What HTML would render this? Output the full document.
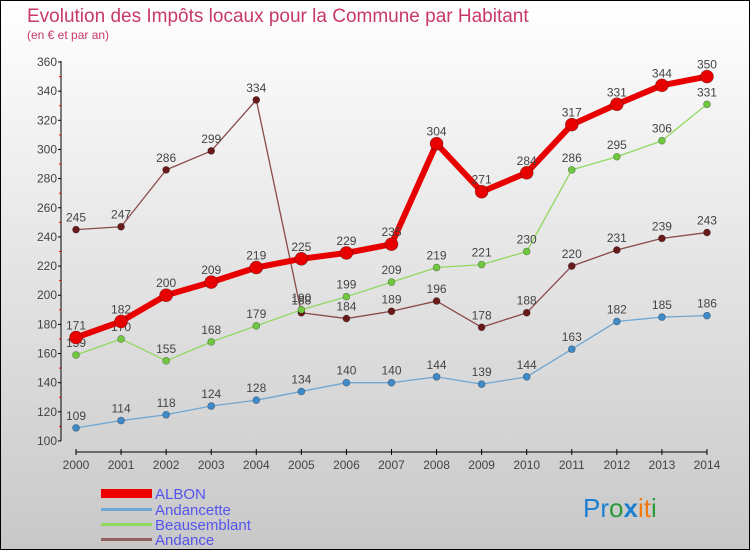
<!DOCTYPE html>
<html><head><meta charset="utf-8"><style>
body{margin:0;width:750px;height:550px;overflow:hidden;font-family:"Liberation Sans",sans-serif}
#wrap{position:relative;width:748px;height:548px;border:1px solid #000;background:linear-gradient(#fff,#c8c8c8)}
</style></head><body>
<div id="wrap">
<svg id="chart" width="748" height="548" style="position:absolute;left:0;top:0">
<text x="26" y="21" font-size="19" fill="#c8386a">Evolution des Impôts locaux pour la Commune par Habitant</text>
<text x="26" y="38" font-size="12" fill="#c8386a">(en € et par an)</text>
<g id="axes"></g><g id="series"></g>
<g>
<rect x="100" y="488" width="51" height="9" fill="#e00"/>
<text x="154" y="498" font-size="15" fill="#5555ee">ALBON</text>
<rect x="100" y="507" width="51" height="3" fill="#6fa6d2"/>
<text x="154" y="514" font-size="15" fill="#5555ee">Andancette</text>
<rect x="100" y="522" width="51" height="3" fill="#90d860"/>
<text x="154" y="529" font-size="15" fill="#5555ee">Beausemblant</text>
<rect x="100" y="537" width="51" height="3" fill="#906060"/>
<text x="154" y="544" font-size="15" fill="#5555ee">Andance</text>
</g>
<text x="582" y="516" font-size="26"><tspan fill="#1a7fd0">Pr</tspan><tspan fill="#2a9a3a">o</tspan><tspan fill="#1a7fd0" font-weight="bold">x</tspan><tspan fill="#f07a10">i</tspan><tspan fill="#f07a10">t</tspan><tspan fill="#2a9a3a">i</tspan></text>
</svg></div>
<script>
const years=[2000,2001,2002,2003,2004,2005,2006,2007,2008,2009,2010,2011,2012,2013,2014];
const albon=[171,182,200,209,219,225,229,235,304,271,284,317,331,344,350];
const andancette=[109,114,118,124,128,134,140,140,144,139,144,163,182,185,186];
const beausemblant=[159,170,155,168,179,190,199,209,219,221,230,286,295,306,331];
const andance=[245,247,286,299,334,188,184,189,196,178,188,220,231,239,243];
const yTicks=[100,120,140,160,180,200,220,240,260,280,300,320,340,360];
const NS="http://www.w3.org/2000/svg";
const xS=i=>75+i*45.07, yS=v=>440-(v-100)*(379/260);
function mk(tag,attrs,parent){const e=document.createElementNS(NS,tag);for(const k in attrs)e.setAttribute(k,attrs[k]);parent.appendChild(e);return e;}
const ax=document.getElementById('axes');
let e=mk('line',{x1:60,y1:yS(360)-1,x2:60,y2:yS(100),stroke:'#000'},ax);


e=mk('line',{x1:75,y1:451,x2:706,y2:451,stroke:'#000'},ax);


yTicks.forEach(v=>{
 mk('line',{x1:57,y1:yS(v),x2:60,y2:yS(v),stroke:'#000'},ax);
 if(v<360)mk('line',{x1:58,y1:yS(v+10),x2:60,y2:yS(v+10),stroke:'#e00'},ax);
 const t=mk('text',{x:56,y:yS(v)+4,'font-size':12,'text-anchor':'end',fill:'#444'},ax);t.textContent=v;
 
 
});
years.forEach((y,i)=>{
 mk('line',{x1:xS(i),y1:448,x2:xS(i),y2:454,stroke:'#000'},ax);
 const t=mk('text',{x:xS(i),y:468,'font-size':12,'text-anchor':'middle',fill:'#444'},ax);t.textContent=y;
 
 
});
const sg=document.getElementById('series');
function draw(data,name,color,dot,w,r){
 const g=mk('g',{},sg);
 
 
 const l=mk('polyline',{points:data.map((v,i)=>xS(i)+','+yS(v)).join(' '),fill:'none',stroke:color,'stroke-width':w,'stroke-linejoin':'round'},g);
 
 
 data.forEach((v,i)=>{
  const c=mk('circle',{cx:xS(i),cy:yS(v),r:r,fill:dot,stroke:'rgba(0,0,0,0.4)','stroke-width':0.6},g);
  
  
  const t=mk('text',{x:xS(i),y:yS(v)-8,'font-size':12,'text-anchor':'middle',fill:'#444'},g);t.textContent=v;
  
  
 });
}
draw(andance,'andance','#8a4a4a','#6a1a1a',1.3,3.5);
draw(andancette,'andancette','#6fa6d2','#3f8ac8',1.3,3.5);
draw(beausemblant,'beausemblant','#90d860','#70c840',1.3,3.5);
draw(albon,'albon','#e80000','#e80000',6,6.5);
</script>
</body></html>
